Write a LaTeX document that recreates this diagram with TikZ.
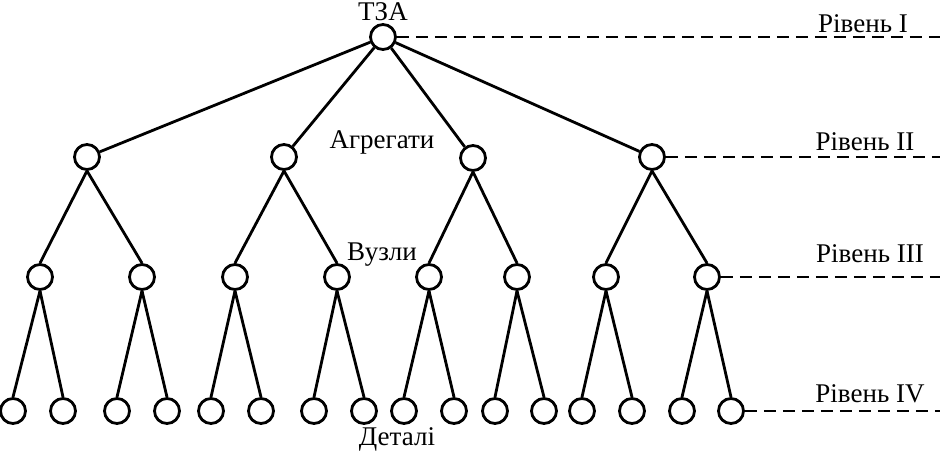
\documentclass[tikz,border=0pt]{standalone}
\usepackage{fontspec}
\setmainfont{Liberation Serif}
\begin{document}
\begin{tikzpicture}[x=1pt,y=-1pt,
  vertex/.style={circle,draw,line width=2.8pt,minimum size=25pt,inner sep=0pt,fill=white},
  edge/.style={line width=2.8pt},
  levelline/.style={line width=2.8pt,dash pattern=on 12pt off 7pt},
  lbl/.style={font=\fontsize{27}{31}\selectfont,anchor=base,inner sep=0pt}]
\useasboundingbox (0,0) rectangle (940,453);
% level I
\node[vertex] (r) at (383,37) {};
% level II
\node[vertex] (a1) at (87,157) {};
\node[vertex] (a2) at (284,157) {};
\node[vertex] (a3) at (473,158) {};
\node[vertex] (a4) at (652,157) {};
% level III
\foreach \x [count=\i] in {40,142,235,337,429,517,606,707}
  \node[vertex] (b\i) at (\x,277) {};
% level IV
\foreach \x [count=\i] in {13,63,117,167,211,261,314,364,404,454,495,544,582,632,682,731}
  \node[vertex] (c\i) at (\x,411) {};
% edges root
\foreach \i in {1,...,4} \draw[edge] (r) -- (a\i);
% edges II-III
\draw[edge] (a1.south) -- (b1.north);
\draw[edge] (a1.south) -- (b2.north);
\draw[edge] (a2.south) -- (b3.north);
\draw[edge] (a2.south) -- (b4.north);
\draw[edge] (a3.south) -- (b5.north);
\draw[edge] (a3.south) -- (b6.north);
\draw[edge] (a4.south) -- (b7.north);
\draw[edge] (a4.south) -- (b8.north);
% edges III-IV
\foreach \i in {1,...,8}{
  \pgfmathtruncatemacro{\ja}{2*\i-1}
  \pgfmathtruncatemacro{\jb}{2*\i}
  \draw[edge] (b\i.south) -- (c\ja.north);
  \draw[edge] (b\i.south) -- (c\jb.north);
}
% level dashed lines
\coordinate (e1) at (940,37);
\coordinate (e2) at (940,157);
\coordinate (e3) at (940,277);
\coordinate (e4) at (940,411);
\draw[levelline] (r.east) -- (e1);
\draw[levelline] (a4.east) -- (e2);
\draw[levelline] (b8.east) -- (e3);
\draw[levelline] (c16.east) -- (e4);
% labels
\node[lbl] (t0) at (383,20) {ТЗА};
\node[lbl] (t1) at (863,32) {Рівень I};
\node[lbl] (t2) at (865,150) {Рівень II};
\node[lbl] (t3) at (870,262) {Рівень III};
\node[lbl] (t4) at (870,402) {Рівень IV};
\node[lbl] (t5) at (382,148) {Агрегати};
\node[lbl] (t6) at (382,260) {Вузли};
\node[lbl] (t7) at (397,445) {Деталі};
\end{tikzpicture}
\end{document}
